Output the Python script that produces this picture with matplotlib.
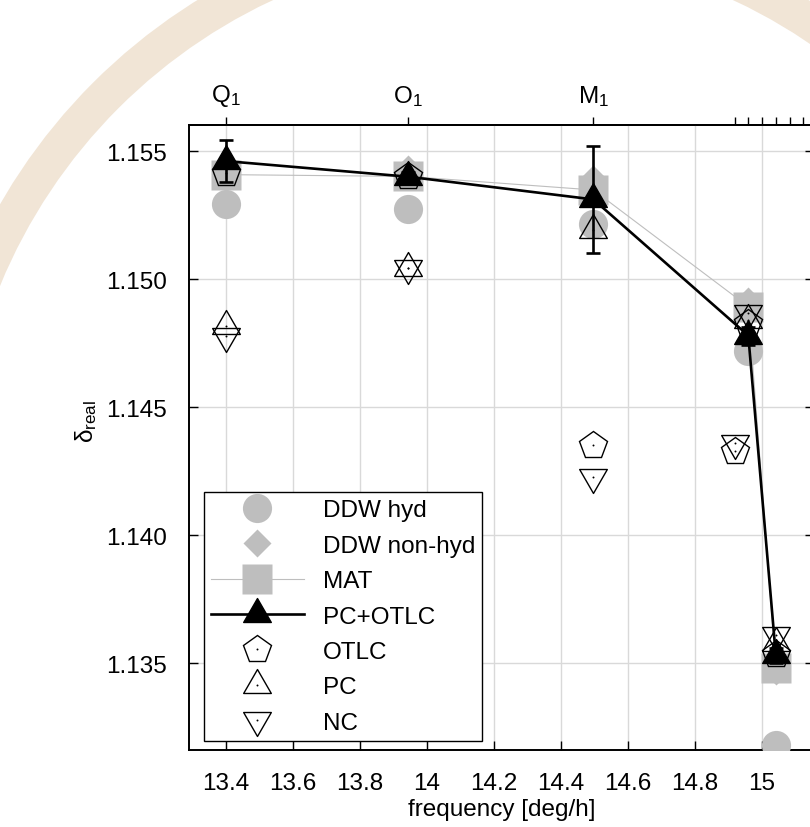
import numpy as np
import matplotlib
matplotlib.use('Agg')
import matplotlib.pyplot as plt
from matplotlib.patches import Wedge
from matplotlib.path import Path
from matplotlib.lines import Line2D
from matplotlib.ticker import MultipleLocator, FuncFormatter, FormatStrFormatter

plt.rcParams['font.family'] = ['Liberation Sans', 'DejaVu Sans']
plt.rcParams['mathtext.fontset'] = 'custom'
plt.rcParams['mathtext.rm'] = 'Liberation Sans'
plt.rcParams['mathtext.it'] = 'Liberation Sans:italic'

nan = np.nan

# tidal constituents (top axis)
const_freq = [13.3987, 13.9430, 14.4967, 14.9179, 14.9589, 15.0000, 15.0411, 15.0821, 15.1232]
const_labels = [r'Q$_{\mathregular{1}}$', r'O$_{\mathregular{1}}$', r'M$_{\mathregular{1}}$',
                '', '', '', '', '', '']

# data: Q1, O1, M1, pi1, P1, K1
freq = np.array([13.3987, 13.9430, 14.4967, 14.9179, 14.9589, 15.0411])
ddw_hyd = np.array([1.15294, 1.15275, 1.15216, nan, 1.14718, 1.13181])
ddw_nonhyd = np.array([1.15409, 1.15431, 1.15390, nan, 1.14914, 1.13470])
mat = np.array([1.15409, 1.15402, 1.15349, nan, 1.14893, 1.13480])
pc_otlc = np.array([1.15462, 1.15401, 1.15312, nan, 1.14780, 1.13530])
pc_otlc_err = np.array([0.00082, 0.00020, 0.00210, nan, 0.00035, 0.00030])
otlc = np.array([1.15415, 1.15404, 1.14353, 1.14330, 1.14830, 1.13537])
pc = np.array([1.14817, 1.15043, 1.15194, nan, 1.14840, 1.13580])
nc = np.array([1.14777, 1.15043, 1.14229, 1.14361, 1.14870, 1.13610])

legend_labels = ['DDW hyd', 'DDW non-hyd', 'MAT', 'PC+OTLC', 'OTLC', 'PC', 'NC']

gray = '#bebebe'
FS = 17.5
W, H = 810, 828
fig = plt.figure(figsize=(W / 100, H / 100), dpi=100)

# watermark ring
ring = Wedge((503 / 100, (H - 494) / 100), 5.80, 0, 180, width=0.36,
             transform=fig.dpi_scale_trans, facecolor='#f1e5d6', edgecolor='none', zorder=-5)
fig.patches.append(ring)

L, R, T, B = 189, 814, 126, 751
ax = fig.add_axes([L / W, 1 - B / H, (R - L) / W, (B - T) / H])
ax.set_xlim(13.2896, 15.155)
ax.set_ylim(1.13160, 1.15603)

tri_up = Path([(0, 1), (-0.866, -0.5), (0.866, -0.5), (0, 1)],
              [Path.MOVETO, Path.LINETO, Path.LINETO, Path.CLOSEPOLY])
tri_dn = Path([(0, -1), (-0.866, 0.5), (0.866, 0.5), (0, -1)],
              [Path.MOVETO, Path.LINETO, Path.LINETO, Path.CLOSEPOLY])


def valid(y):
    m = ~np.isnan(y)
    return freq[m], y[m]


x, y = valid(ddw_hyd)
ax.plot(x, y, ls='none', marker='o', ms=21, mfc=gray, mec='none', zorder=3)
x, y = valid(ddw_nonhyd)
ax.plot(x, y, ls='none', marker='D', ms=14, mfc=gray, mec='none', zorder=3.1)
x, y = valid(mat)
ax.plot(x, y, ls='-', lw=0.8, color=gray, marker='s', ms=21, mfc=gray, mec='none', zorder=3.2)

for vals, mk, ms in [(otlc, 'p', 20.5), (pc, tri_up, 23), (nc, tri_dn, 23)]:
    x, y = valid(vals)
    ax.plot(x, y, ls='none', marker=mk, ms=ms, mfc='none', mec='black', mew=1.0, zorder=4)
    ax.plot(x, y, ls='none', marker='o', ms=1.4, mfc='black', mec='none', zorder=4)

x, y = valid(pc_otlc)
_, e = valid(pc_otlc_err)
ax.plot(x, y, ls='-', lw=1.9, color='black', marker=tri_up, ms=23, mfc='black', mec='black', zorder=5)
ax.errorbar(x, y, yerr=e, fmt='none', ecolor='black', elinewidth=1.9, capsize=5, capthick=1.9, zorder=6)

# axes styling
ax.grid(True, color='#d9d9d9', lw=1.0)
ax.set_axisbelow(True)
ax.xaxis.set_major_locator(MultipleLocator(0.2))
ax.xaxis.set_major_formatter(FuncFormatter(lambda v, p: f"{v:g}"))
ax.yaxis.set_major_locator(MultipleLocator(0.005))
ax.yaxis.set_major_formatter(FormatStrFormatter('%.3f'))
ax.tick_params(axis='both', direction='in', length=6.5, width=1.0, labelsize=FS, colors='black')
ax.tick_params(axis='y', left=True, right=True, pad=16)
ax.tick_params(axis='x', bottom=True, top=False, pad=16)
for s in ax.spines.values():
    s.set_linewidth(1.4)
    s.set_color('black')

sec = ax.secondary_xaxis('top')
sec.set_xticks(const_freq)
sec.set_xticklabels(const_labels)
sec.tick_params(direction='out', length=6, width=1.0, labelsize=FS, pad=6)
sec.spines['top'].set_linewidth(1.4)

fig.text((L + R) / 2 / W, 1 - 810 / H, 'frequency [deg/h]', ha='center', va='center', fontsize=FS)
fig.text(86 / W, 1 - 422 / H, r'δ$_{\mathregular{real}}$', ha='center', va='center',
         rotation=90, fontsize=FS)

# legend
dot = dict(ls='none', marker='o', ms=1.4, mfc='black', mec='none')
handles = [
    Line2D([], [], ls='none', marker='o', ms=21, mfc=gray, mec='none'),
    Line2D([], [], ls='none', marker='D', ms=14, mfc=gray, mec='none'),
    Line2D([], [], ls='-', lw=0.8, color=gray, marker='s', ms=21, mfc=gray, mec='none'),
    Line2D([], [], ls='-', lw=1.9, color='black', marker=tri_up, ms=23, mfc='black', mec='black'),
    (Line2D([], [], ls='none', marker='p', ms=20.5, mfc='none', mec='black', mew=1.0), Line2D([], [], **dot)),
    (Line2D([], [], ls='none', marker=tri_up, ms=23, mfc='none', mec='black', mew=1.0), Line2D([], [], **dot)),
    (Line2D([], [], ls='none', marker=tri_dn, ms=23, mfc='none', mec='black', mew=1.0), Line2D([], [], **dot)),
]
leg = ax.legend(handles, legend_labels, loc='lower left',
                bbox_to_anchor=((204 - L) / (R - L), (B - 742) / (B - T)), borderaxespad=0,
                fontsize=FS, handlelength=3.8, handletextpad=0.78, labelspacing=0.55,
                borderpad=0.3, numpoints=1, fancybox=False, framealpha=1, edgecolor='black')
leg.get_frame().set_linewidth(1.0)
leg.set_zorder(10)

fig.savefig('out.png', dpi=100)
